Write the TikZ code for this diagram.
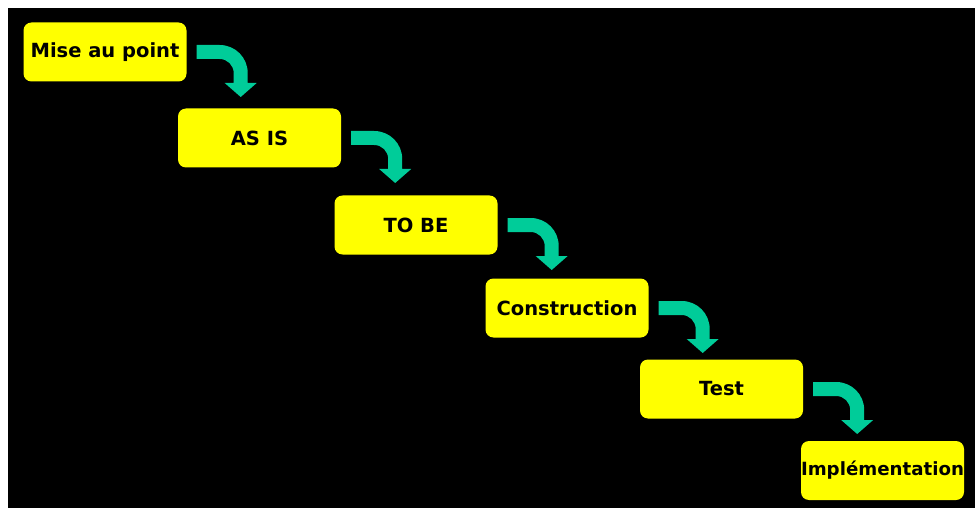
\documentclass[tikz,border=0pt]{standalone}
\usepackage{fontspec}
\setmainfont{DejaVu Sans}
\definecolor{stageyellow}{RGB}{255,255,0}
\definecolor{flowteal}{RGB}{0,204,153}
\begin{document}
\begin{tikzpicture}[x=1pt,y=-1pt,
  stagebox/.style={fill=stageyellow, rounded corners=8pt, inner sep=0pt,
    minimum width=163pt, minimum height=59pt,
    font=\fontsize{19.5}{21}\selectfont\bfseries, text=black},
  bend/.pic={
    \fill[flowteal] (0,-7) -- (23,-7)
      .. controls (38.5,-7) and (51,5.5) .. (51,21)
      -- (51,31) -- (60,31) -- (44,45) -- (28,31) -- (37,31) -- (37,21)
      .. controls (37,13.27) and (30.73,7) .. (23,7)
      -- (0,7) -- cycle;
  }]
  % page and dark panel
  \fill[white] (0,0) rectangle (975,508);
  \fill[black] (8,8) rectangle (975,508);
  \useasboundingbox (0,0) rectangle (975,508);

  % stages of the project
  \node[stagebox] (mise)   at (105,52)    {\makebox[0pt]{Mise au point}};
  \node[stagebox] (asis)   at (259.5,138) {\makebox[0pt]{AS IS}};
  \node[stagebox] (tobe)   at (416,225)   {\makebox[0pt]{TO BE}};
  \node[stagebox] (constr) at (567,308)   {\makebox[0pt]{Construction}};
  \node[stagebox] (test)   at (721.5,389) {\makebox[0pt]{Test}};
  \node[stagebox] (impl)   at (882.5,470.5)
    {\makebox[0pt]{\fontsize{18.2}{21}\selectfont Implémentation}};

  % bent arrows leading to the next stage
  \foreach \src in {mise,asis,tobe,constr,test}
    \pic at ([xshift=10pt]\src.east) {bend};
\end{tikzpicture}
\end{document}
